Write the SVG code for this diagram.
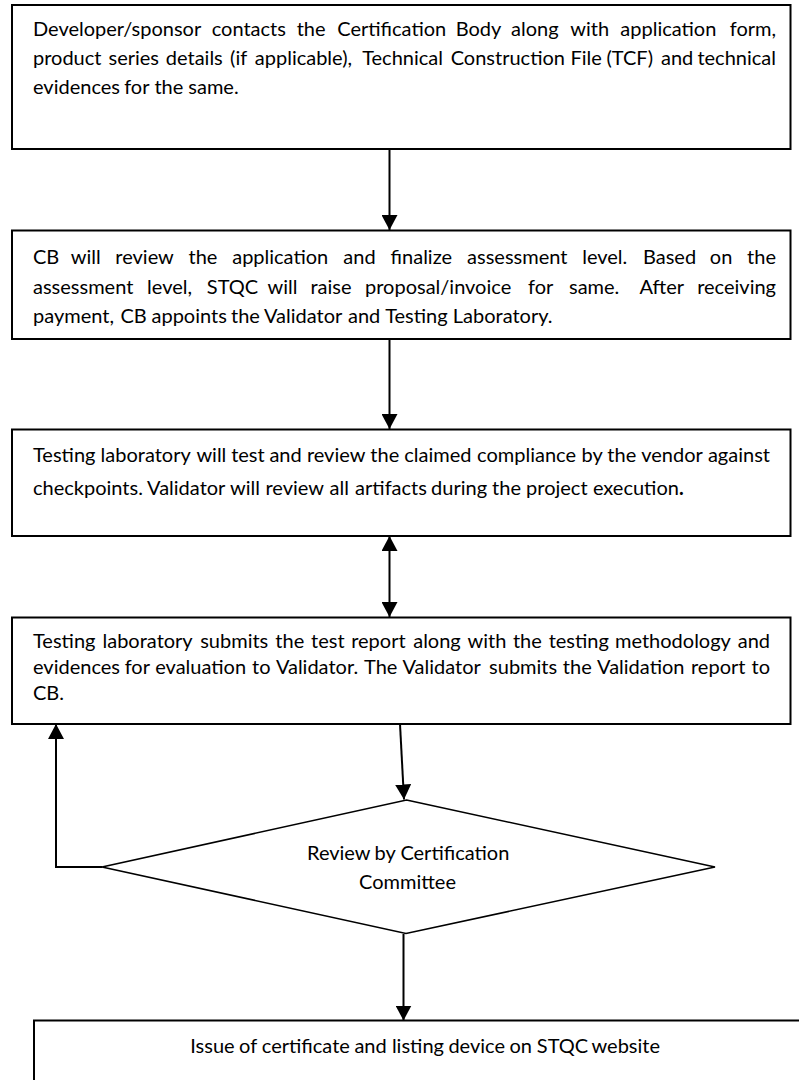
<svg xmlns="http://www.w3.org/2000/svg" width="799" height="1080" viewBox="0 0 799 1080">
  <style>
    .box { fill: #ffffff; stroke: #000000; stroke-width: 2; }
    .dia { fill: #ffffff; stroke: #000000; stroke-width: 1.6; }
    .t { font-family: Lato, "Open Sans", "Liberation Sans", sans-serif; font-size: 20px; fill: #000000; }
    .c { text-anchor: middle; }
    .e { text-anchor: end; }
    .conn { fill: none; stroke: #000000; stroke-width: 2; }
  </style>
  <defs>
    <marker id="arrow" viewBox="0 0 15 16" refX="15" refY="8" markerWidth="15" markerHeight="16" markerUnits="userSpaceOnUse" orient="auto-start-reverse">
      <path d="M0,0 L15,8 L0,16 z" fill="#000000"/>
    </marker>
  </defs>
  <rect width="799" height="1080" fill="#ffffff"/>

  <g id="connectors">
    <line class="conn" x1="389.5" y1="149" x2="389.5" y2="230" marker-end="url(#arrow)"/>
    <line class="conn" x1="389.5" y1="339" x2="389.5" y2="429" marker-end="url(#arrow)"/>
    <line class="conn" x1="389.5" y1="536" x2="389.5" y2="617" marker-start="url(#arrow)" marker-end="url(#arrow)"/>
    <line class="conn" x1="400" y1="724" x2="404" y2="799.5" marker-end="url(#arrow)"/>
    <line class="conn" x1="403.5" y1="934" x2="403.5" y2="1020.5" marker-end="url(#arrow)"/>
    <polyline class="conn" points="102,867 56,867 56,724" marker-end="url(#arrow)"/>
  </g>

  <g id="node-application">
    <rect class="box" x="12" y="5" width="778.5" height="144"/>
    <text class="t" y="36"><tspan x="33">Developer/sponsor</tspan><tspan x="211.7">contacts</tspan><tspan x="296.7">the</tspan><tspan x="337.3">Certification</tspan><tspan x="455.7">Body</tspan><tspan x="511">along</tspan><tspan x="570.3">with</tspan><tspan x="620.3">application</tspan><tspan class="e" x="776">form,</tspan></text>
    <text class="t" y="65"><tspan x="33">product</tspan><tspan x="108.5">series</tspan><tspan x="165.8">details</tspan><tspan x="230.1">(if</tspan><tspan x="254.8">applicable),</tspan><tspan x="362.2">Technical</tspan><tspan x="450.7">Construction</tspan><tspan x="570.5">File</tspan><tspan x="606.5">(TCF)</tspan><tspan x="661">and</tspan><tspan class="e" x="776">technical</tspan></text>
    <text class="t" y="94"><tspan x="33">evidences</tspan><tspan x="124.2">for</tspan><tspan x="154.4">the</tspan><tspan x="188.3">same.</tspan></text>
  </g>

  <g id="node-review">
    <rect class="box" x="12" y="230.5" width="778.5" height="108.5"/>
    <text class="t" y="264"><tspan x="33">CB</tspan><tspan x="70.7">will</tspan><tspan x="115.3">review</tspan><tspan x="188.5">the</tspan><tspan x="232.2">application</tspan><tspan x="343.3">and</tspan><tspan x="390.6">finalize</tspan><tspan x="467.1">assessment</tspan><tspan x="582.2">level.</tspan><tspan x="643">Based</tspan><tspan x="709.8">on</tspan><tspan class="e" x="776">the</tspan></text>
    <text class="t" y="294"><tspan x="33">assessment</tspan><tspan x="147.1">level,</tspan><tspan x="206.8">STQC</tspan><tspan x="267.5">will</tspan><tspan x="310.5">raise</tspan><tspan x="365">proposal/invoice</tspan><tspan x="528">for</tspan><tspan x="569">same.</tspan><tspan x="639.4">After</tspan><tspan class="e" x="776">receiving</tspan></text>
    <text class="t" y="323"><tspan x="33">payment,</tspan><tspan x="120.5">CB</tspan><tspan x="151.5">appoints</tspan><tspan x="231">the</tspan><tspan x="264">Validator</tspan><tspan x="348">and</tspan><tspan x="385.2">Testing</tspan><tspan x="452.8">Laboratory.</tspan></text>
  </g>

  <g id="node-testing">
    <rect class="box" x="12" y="429.5" width="778.5" height="106.5"/>
    <text class="t" y="462"><tspan x="33">Testing</tspan><tspan x="100.6">laboratory</tspan><tspan x="196.4">will</tspan><tspan x="231.2">test</tspan><tspan x="269.4">and</tspan><tspan x="306.9">review</tspan><tspan x="370.3">the</tspan><tspan x="404.2">claimed</tspan><tspan x="477.1">compliance</tspan><tspan x="581.6">by</tspan><tspan x="607.3">the</tspan><tspan x="641.2">vendor</tspan><tspan class="e" x="770">against</tspan></text>
    <text class="t" y="495"><tspan x="33">checkpoints.</tspan><tspan x="147.1">Validator</tspan><tspan x="230">will</tspan><tspan x="265.5">review</tspan><tspan x="329.5">all</tspan><tspan x="355.1">artifacts</tspan><tspan x="431.1">during</tspan><tspan x="492.1">the</tspan><tspan x="526.1">project</tspan><tspan x="592.9">execution<tspan font-weight="bold">.</tspan></tspan></text>
  </g>

  <g id="node-report">
    <rect class="box" x="12" y="617.5" width="778.5" height="106.5"/>
    <text class="t" y="648"><tspan x="33">Testing</tspan><tspan x="102.5">laboratory</tspan><tspan x="200.2">submits</tspan><tspan x="275.3">the</tspan><tspan x="311.1">test</tspan><tspan x="351.2">report</tspan><tspan x="413.2">along</tspan><tspan x="467.6">with</tspan><tspan x="512.9">the</tspan><tspan x="548.7">testing</tspan><tspan x="615">methodology</tspan><tspan class="e" x="770">and</tspan></text>
    <text class="t" y="674"><tspan x="33">evidences</tspan><tspan x="124.7">for</tspan><tspan x="155.2">evaluation</tspan><tspan x="252.1">to</tspan><tspan x="275.9">Validator.</tspan><tspan x="364">The</tspan><tspan x="402.5">Validator</tspan><tspan x="489.1">submits</tspan><tspan x="562.8">the</tspan><tspan x="597.1">Validation</tspan><tspan x="691">report</tspan><tspan class="e" x="770">to</tspan></text>
    <text class="t" x="33" y="700">CB.</text>
  </g>

  <g id="node-committee">
    <polygon class="dia" points="406.5,800 715,867 406,933.5 102,867"/>
    <text class="t" y="860"><tspan x="307">Review</tspan><tspan x="374.6">by</tspan><tspan x="400.4">Certification</tspan></text>
    <text class="t c" x="407.5" y="889">Committee</text>
  </g>

  <g id="node-certificate">
    <rect class="box" x="34" y="1020.5" width="800" height="100"/>
    <text class="t" y="1052.5"><tspan x="190.3">Issue</tspan><tspan x="239.1">of</tspan><tspan x="261.8">certificate</tspan><tspan x="354.4">and</tspan><tspan x="391.9">listing</tspan><tspan x="448.4">device</tspan><tspan x="509.4">on</tspan><tspan x="536.8">STQC</tspan><tspan x="591.5">website</tspan></text>
  </g>
</svg>
